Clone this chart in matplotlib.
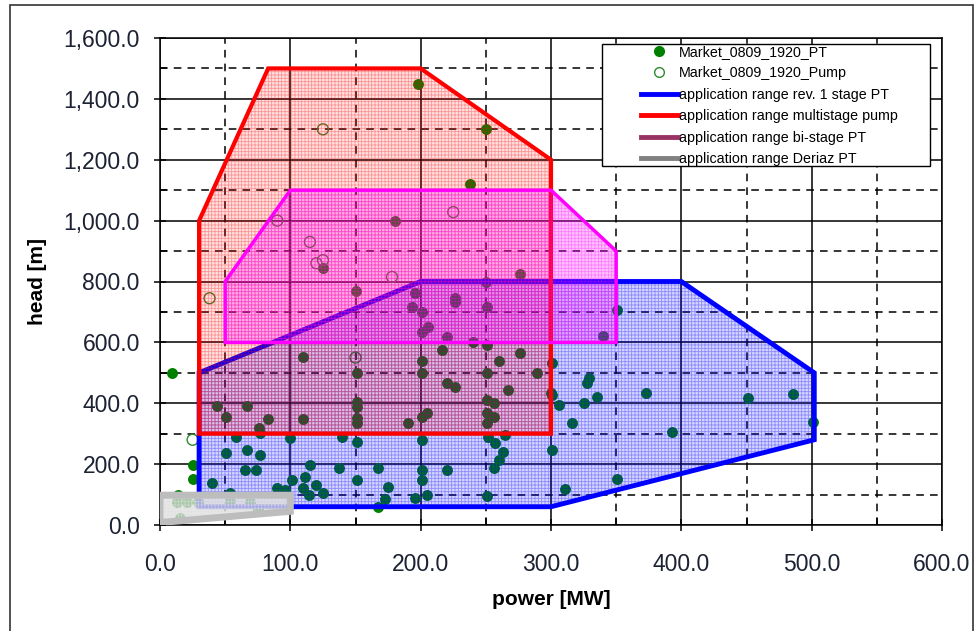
import matplotlib
matplotlib.use('Agg')
import matplotlib.pyplot as plt
from matplotlib.patches import Polygon, Rectangle
from matplotlib.lines import Line2D
from matplotlib.ticker import MultipleLocator, FuncFormatter

plt.rcParams['font.family'] = ['Liberation Sans', 'DejaVu Sans']
plt.rcParams['hatch.linewidth'] = 0.6

# market data: turbine mode (filled) [MW, m]
pt_power = [198, 250, 238, 180, 125, 276, 250, 150, 196, 226,
            226, 193, 201, 251, 206, 201, 220, 240, 251, 216,
            276, 260, 110, 201, 151, 201, 251, 289, 220, 226,
            267, 300, 151, 251, 256, 151, 44, 67, 51, 83,
            110, 151, 151, 205, 201, 190, 251, 256, 251, 76,
            77, 140, 201, 252, 265, 151, 100, 58, 257, 263,
            301, 51, 67, 77, 260, 256, 115, 137, 167, 201,
            220, 65, 74, 25, 25, 111, 101, 151, 201, 40,
            90, 120, 110, 175, 96, 54, 125, 114, 205, 251,
            196, 173, 167, 14, 9, 351, 340, 301, 329, 328,
            301, 306, 325, 335, 373, 451, 486, 501, 316, 393,
            351, 311, 15, 21, 29, 54, 69, 75, 13]
pt_head = [1450, 1300, 1120, 1000, 845, 825, 800, 770, 763, 745,
           733, 717, 700, 717, 650, 635, 617, 601, 591, 575,
           565, 540, 552, 540, 500, 500, 500, 500, 466, 453,
           443, 433, 404, 410, 400, 387, 390, 390, 355, 348,
           348, 351, 335, 368, 355, 335, 368, 355, 335, 319,
           302, 289, 279, 289, 296, 273, 286, 289, 269, 240,
           246, 237, 246, 230, 213, 187, 197, 187, 187, 181,
           181, 181, 181, 197, 151, 158, 148, 148, 148, 138,
           121, 131, 121, 125, 115, 105, 105, 99, 99, 95,
           89, 85, 59, 99, 500, 706, 621, 532, 483, 466,
           427, 394, 400, 421, 434, 417, 430, 338, 335, 306,
           151, 118, 23, 75, 75, 80, 75, 50, 75]

# market data: pump mode (open)
pump_power = [125, 90, 115, 125, 120, 178, 225, 38, 150, 25]
pump_head = [1300, 1000, 930, 870, 860, 815, 1028, 745, 550, 280]

# application ranges
rev1_x = [30, 30, 200, 400, 502, 502, 300]
rev1_y = [60, 500, 800, 800, 500, 280, 60]
multi_x = [30, 30, 83, 200, 300, 300]
multi_y = [300, 1000, 1500, 1500, 1200, 300]
bi_x = [50, 50, 100, 300, 350, 350]
bi_y = [600, 800, 1100, 1100, 900, 600]
deriaz_x = [0, 0, 100, 100]
deriaz_y = [8, 98, 98, 45]

fig = plt.figure(figsize=(9.76, 6.31), dpi=100)
ax = fig.add_axes([160 / 976, 1 - 525 / 631, 782 / 976, 487 / 631])

ax.set_xlim(0, 600)
ax.set_ylim(0, 1600)
ax.xaxis.set_major_locator(MultipleLocator(100))
ax.xaxis.set_minor_locator(MultipleLocator(50))
ax.yaxis.set_major_locator(MultipleLocator(200))
ax.yaxis.set_minor_locator(MultipleLocator(100))
ax.grid(which='major', color='black', lw=1.1, zorder=0)
ax.grid(which='minor', color='black', lw=1.1, ls=(0, (5, 4)), zorder=0)
ax.set_axisbelow(True)
fmt = FuncFormatter(lambda v, p: '{:,.1f}'.format(v))
ax.xaxis.set_major_formatter(fmt)
ax.yaxis.set_major_formatter(fmt)
ax.tick_params(which='major', direction='inout', length=9, width=1.1,
               labelsize=16.5, labelcolor='#1c2233', pad=10)
ax.tick_params(which='minor', direction='in', length=5, width=1.1)
ax.tick_params(axis='x', which='major', pad=16)
for s in ax.spines.values():
    s.set_color('black')
    s.set_linewidth(1.1)

ax.scatter(pt_power, pt_head, s=62, color='#008000', zorder=2, linewidths=0)
ax.scatter(pump_power, pump_head, s=62, facecolors='none', edgecolors='#2e8b2e',
           linewidths=1.0, zorder=2)


def zone(xs, ys, color, fill_alpha, hatch_alpha, lw, z, edge=None):
    pts = list(zip(xs, ys))
    ax.add_patch(Polygon(pts, closed=True, facecolor=color, alpha=fill_alpha,
                         lw=0, zorder=z))
    ax.add_patch(Polygon(pts, closed=True, facecolor='none',
                         edgecolor=matplotlib.colors.to_rgba(color, hatch_alpha),
                         hatch='+++++', lw=0, zorder=z))
    ax.add_patch(Polygon(pts, closed=True, fill=False,
                         edgecolor=edge or color, lw=lw, zorder=z,
                         joinstyle='miter'))


zone(rev1_x, rev1_y, '#0000ff', 0.16, 0.35, 3.5, 3)
zone(multi_x, multi_y, '#ff0000', 0.11, 0.35, 3.0, 4)
zone(bi_x, bi_y, '#ff00ff', 0.24, 0.35, 2.5, 5)
zone(deriaz_x, deriaz_y, '#e0e0e0', 0.75, 0.6, 5, 6, edge='#bdbdbd')

ax.set_xlabel('power [MW]', fontsize=15, fontweight='bold', labelpad=10)
ax.set_ylabel('head [m]', fontsize=15, fontweight='bold', labelpad=12)

handles = [
    Line2D([], [], ls='none', marker='o', ms=7, color='#008000'),
    Line2D([], [], ls='none', marker='o', ms=7, mfc='none', mec='#2e8b2e'),
    Line2D([], [], color='#0000ff', lw=3.5),
    Line2D([], [], color='#ff0000', lw=3.5),
    Line2D([], [], color='#993366', lw=3.5),
    Line2D([], [], color='#808080', lw=3.5),
]
labels = ['Market_0809_1920_PT', 'Market_0809_1920_Pump',
          'application range rev. 1 stage PT', 'application range multistage pump',
          'application range bi-stage PT', 'application range Deriaz PT']
leg = ax.legend(handles, labels, loc='upper left',
                bbox_to_anchor=((638 - 160) / 782, (525 - 42) / 487),
                frameon=False, fontsize=10.3, handlelength=2.6, handletextpad=0.05,
                labelspacing=0.52, borderpad=0.2, borderaxespad=0)
leg.set_zorder(11)
ax.add_patch(Rectangle(((602 - 160) / 782, (525 - 166) / 487), 328 / 782, 122 / 487,
                       transform=ax.transAxes, facecolor='white', edgecolor='black',
                       lw=1.0, zorder=10))

fig.add_artist(Rectangle((10 / 976, -0.02), 963 / 976, 1.02 - 5 / 631,
                         transform=fig.transFigure, fill=False,
                         edgecolor='#333333', lw=1.2))

fig.savefig('out.png', dpi=100)
